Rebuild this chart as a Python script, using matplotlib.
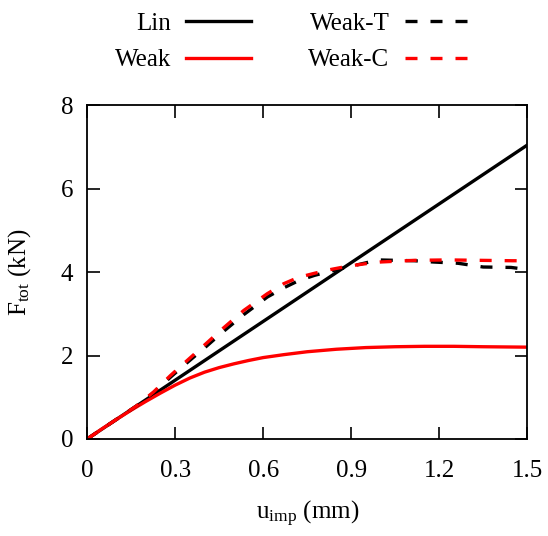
import matplotlib
matplotlib.use("Agg")
import matplotlib.pyplot as plt

plt.rcParams['font.family'] = ['Liberation Serif', 'DejaVu Serif']
plt.rcParams['mathtext.fontset'] = 'custom'
plt.rcParams['mathtext.rm'] = 'Liberation Serif'
plt.rcParams['mathtext.it'] = 'Liberation Serif'

# Data
u_lin = [0.0, 1.5]
f_lin = [0.0, 7.04]

u_weak = [0.0, 0.05, 0.1, 0.15, 0.2, 0.25, 0.3, 0.35, 0.4, 0.45, 0.5, 0.55, 0.6, 0.67, 0.75, 0.85, 0.95, 1.05, 1.15, 1.25, 1.35, 1.5]
f_weak = [0.0, 0.24, 0.47, 0.69, 0.90, 1.10, 1.29, 1.46, 1.60, 1.71, 1.80, 1.88, 1.95, 2.02, 2.09, 2.15, 2.19, 2.21, 2.22, 2.22, 2.21, 2.20]

u_wt = [0.0, 0.1, 0.17, 0.227, 0.284, 0.341, 0.4, 0.455, 0.534, 0.614, 0.67, 0.72, 0.775, 0.83, 0.889, 0.95, 0.99, 1.05, 1.116, 1.18, 1.264, 1.35, 1.445, 1.5]
f_wt = [0.0, 0.47, 0.80, 1.11, 1.48, 1.83, 2.18, 2.52, 2.98, 3.40, 3.62, 3.79, 3.92, 4.02, 4.12, 4.22, 4.29, 4.28, 4.27, 4.24, 4.21, 4.12, 4.11, 4.06]

u_wc = [0.0, 0.1, 0.17, 0.227, 0.284, 0.341, 0.4, 0.455, 0.534, 0.614, 0.67, 0.72, 0.775, 0.83, 0.889, 0.95, 1.0, 1.116, 1.23, 1.34, 1.45, 1.5]
f_wc = [0.0, 0.47, 0.80, 1.13, 1.52, 1.88, 2.25, 2.60, 3.08, 3.48, 3.72, 3.87, 3.97, 4.06, 4.14, 4.20, 4.24, 4.28, 4.29, 4.28, 4.27, 4.27]

fig = plt.figure(figsize=(5.48, 5.36), dpi=100)
ax = fig.add_axes([0.159, 0.181, 0.803, 0.623])

lw = 2.4
dash = (3.6, 3.9)
ax.plot(u_lin, f_lin, color='black', lw=lw, label='Lin')
ax.plot(u_weak, f_weak, color='red', lw=lw, label='Weak')
ax.plot(u_wt, f_wt, color='black', lw=lw, dashes=dash, label='Weak-T')
ax.plot(u_wc, f_wc, color='red', lw=lw, dashes=dash, label='Weak-C')

ax.set_xlim(0, 1.5)
ax.set_ylim(0, 8)
ax.set_xticks([0, 0.3, 0.6, 0.9, 1.2, 1.5])
ax.set_xticklabels(['0', '0.3', '0.6', '0.9', '1.2', '1.5'])
ax.set_yticks([0, 2, 4, 6, 8])
ax.tick_params(direction='in', length=9, width=1.2, top=True, right=True,
               labelsize=18)
ax.tick_params(axis='x', pad=15)
ax.tick_params(axis='y', pad=10)
for s in ax.spines.values():
    s.set_linewidth(1.3)

ax.set_xlabel(r'$\mathregular{u_{imp}}$ (mm)', fontsize=18, labelpad=12)
ax.set_ylabel(r'$\mathregular{F_{tot}}$ (kN)', fontsize=18, labelpad=20)

fig.legend(loc='upper center', bbox_to_anchor=(0.533, 1.0), ncol=2,
           markerfirst=False, frameon=False, fontsize=18,
           handlelength=2.6, handletextpad=0.6, columnspacing=2.3,
           labelspacing=0.55, borderaxespad=0.1)

fig.savefig('out.png', dpi=100)
